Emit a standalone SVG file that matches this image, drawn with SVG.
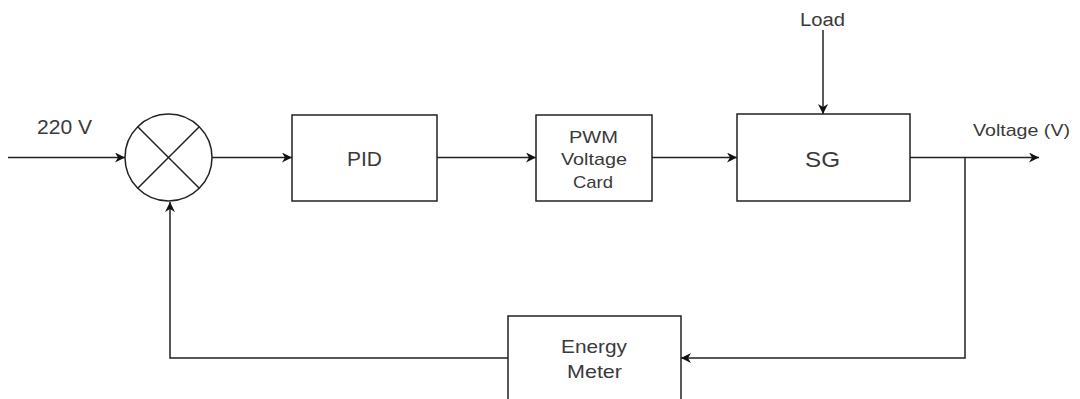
<svg xmlns="http://www.w3.org/2000/svg" width="1080" height="399" viewBox="0 0 1080 399">
<style>
.box{fill:#fff;stroke:#222;stroke-width:1.5}
.ln{fill:none;stroke:#222;stroke-width:1.5}
text{font-family:"Liberation Sans",Arial,sans-serif;fill:#3a3a3a;text-anchor:middle}
</style>
<defs>
<marker id="ah" viewBox="0 0 10 10" refX="10" refY="5" markerWidth="10" markerHeight="10" markerUnits="userSpaceOnUse" orient="auto">
<path d="M0,0 L10,5 L0,10 L3,5 Z" fill="#111"/>
</marker>
</defs>
<rect width="1080" height="399" fill="#fff"/>
<g id="connectors">
<line class="ln" x1="8" y1="157.5" x2="125" y2="157.5" marker-end="url(#ah)"/>
<line class="ln" x1="212" y1="157.5" x2="292" y2="157.5" marker-end="url(#ah)"/>
<line class="ln" x1="437" y1="157.5" x2="536" y2="157.5" marker-end="url(#ah)"/>
<line class="ln" x1="652" y1="157.5" x2="737" y2="157.5" marker-end="url(#ah)"/>
<line class="ln" x1="823" y1="30" x2="823" y2="114" marker-end="url(#ah)"/>
<line class="ln" x1="910" y1="157.5" x2="1039" y2="157.5" marker-end="url(#ah)"/>
<polyline class="ln" points="965,157.5 965,358 681,358" marker-end="url(#ah)"/>
<polyline class="ln" points="508,358 170,358 170,202" marker-end="url(#ah)"/>
</g>
<g id="sum">
<circle cx="168.5" cy="157.5" r="43.5" class="box"/>
<line class="ln" x1="137.7" y1="126.7" x2="199.3" y2="188.3"/>
<line class="ln" x1="199.3" y1="126.7" x2="137.7" y2="188.3"/>
</g>
<g id="label-220"><text x="64.5" y="134" font-size="20" textLength="55" lengthAdjust="spacingAndGlyphs">220 V</text></g>
<g id="pid">
<rect class="box" x="292" y="115" width="145" height="86"/>
<text x="364.5" y="165.5" font-size="20" textLength="35" lengthAdjust="spacingAndGlyphs">PID</text>
</g>
<g id="pwm">
<rect class="box" x="536" y="115" width="116" height="86"/>
<text x="593.5" y="143" font-size="17" textLength="49" lengthAdjust="spacingAndGlyphs">PWM</text>
<text x="594" y="165" font-size="17" textLength="66" lengthAdjust="spacingAndGlyphs">Voltage</text>
<text x="593" y="188" font-size="17" textLength="40" lengthAdjust="spacingAndGlyphs">Card</text>
</g>
<g id="sg">
<rect class="box" x="737" y="114" width="173" height="87"/>
<text x="822.5" y="166.5" font-size="22" textLength="35" lengthAdjust="spacingAndGlyphs">SG</text>
</g>
<g id="load"><text x="822.5" y="26" font-size="18" textLength="45" lengthAdjust="spacingAndGlyphs">Load</text></g>
<g id="vout"><text x="1021.5" y="136" font-size="17" textLength="97" lengthAdjust="spacingAndGlyphs">Voltage (V)</text></g>
<g id="energy">
<rect class="box" x="508" y="316" width="173" height="100"/>
<text x="594" y="353" font-size="19" textLength="66" lengthAdjust="spacingAndGlyphs">Energy</text>
<text x="594.5" y="378" font-size="19" textLength="55" lengthAdjust="spacingAndGlyphs">Meter</text>
</g>
</svg>
